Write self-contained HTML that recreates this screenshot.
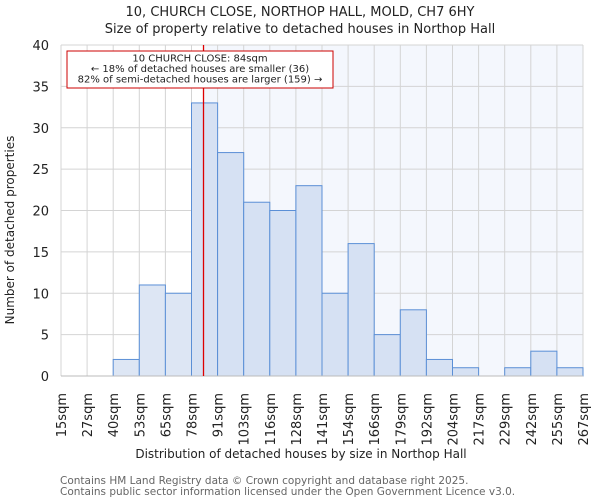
<!DOCTYPE html>
<html><head><meta charset="utf-8"><style>
body{margin:0;background:#fff;font-family:"DejaVu Sans","Liberation Sans",sans-serif;}
svg text{font-family:"DejaVu Sans","Liberation Sans",sans-serif;fill:#222;}
</style></head><body>
<svg id="chart" width="600" height="500" xmlns="http://www.w3.org/2000/svg">
<text x="300" y="16" text-anchor="middle" font-size="13">10, CHURCH CLOSE, NORTHOP HALL, MOLD, CH7 6HY</text>
<text x="300" y="33" text-anchor="middle" font-size="13">Size of property relative to detached houses in Northop Hall</text>
<g id="grid"></g><g id="bars"></g><g id="axes"></g>
<text x="301" y="458" text-anchor="middle" font-size="12">Distribution of detached houses by size in Northop Hall</text>
<text transform="translate(14,230) rotate(-90)" text-anchor="middle" font-size="12">Number of detached properties</text>
<text x="60" y="484" font-size="10.5" style="fill:#666">Contains HM Land Registry data © Crown copyright and database right 2025.</text>
<text x="60" y="495" font-size="10.5" style="fill:#666">Contains public sector information licensed under the Open Government Licence v3.0.</text>
</svg>
<script>
const categories=["15sqm","27sqm","40sqm","53sqm","65sqm","78sqm","91sqm","103sqm","116sqm","128sqm","141sqm","154sqm","166sqm","179sqm","192sqm","204sqm","217sqm","229sqm","242sqm","255sqm","267sqm"];
const counts=[0,0,2,11,10,33,27,21,20,23,10,16,5,8,2,1,0,1,3,1];
const yTicks=[0,5,10,15,20,25,30,35,40];
const markerIndex=5.46;
const NS="http://www.w3.org/2000/svg";
const X0=61,X1=583,Y0=376,Y1=45,YMAX=40;
const bw=(X1-X0)/counts.length;
const x=i=>X0+i*bw;
const y=v=>Y0-(v/YMAX)*(Y0-Y1);
function mk(tag,attrs,parent){const e=document.createElementNS(NS,tag);for(const k in attrs)e.setAttribute(k,attrs[k]);parent.appendChild(e);return e;}
const grid=document.getElementById('grid'),bars=document.getElementById('bars'),axes=document.getElementById('axes');
const mx=x(markerIndex);
let shade=mk('rect',{x:mx,y:Y1,width:X1-mx,height:Y0-Y1,fill:'#f4f7fd'},grid);


for(let i=0;i<=counts.length;i++){let l=mk('line',{x1:x(i),x2:x(i),y1:Y1,y2:Y0,stroke:'#d4d4d4','stroke-width':1},grid);

}
yTicks.forEach(t=>{let l=mk('line',{x1:X0,x2:X1,y1:y(t),y2:y(t),stroke:'#d4d4d4','stroke-width':1},grid);


let tx=mk('text',{x:X0-12,y:y(t)+5,'text-anchor':'end','font-size':13},axes);tx.textContent=t;

});
counts.forEach((c,i)=>{if(c<=0)return;let r=mk('rect',{x:x(i),y:y(c),width:bw,height:y(0)-y(c),fill:(i+1)<=markerIndex?'#dde6f4':'#d6e1f3',stroke:'#5b8fd6','stroke-width':1},bars);

});
let ax=mk('line',{x1:X0,x2:X1,y1:Y0,y2:Y0,stroke:'#bbb','stroke-width':1},axes);


categories.forEach((c,i)=>{let t=mk('text',{transform:`translate(${x(i)+5},393) rotate(-90)`,'text-anchor':'end','font-size':13},axes);t.textContent=c;

});
let ml=mk('line',{x1:mx,x2:mx,y1:Y1,y2:Y0,stroke:'#dd0000','stroke-width':1.3},axes);


let box=mk('rect',{x:67,y:51,width:266,height:37,fill:'#fff',stroke:'#cc0000','stroke-width':1},axes);


["10 CHURCH CLOSE: 84sqm","← 18% of detached houses are smaller (36)","82% of semi-detached houses are larger (159) →"].forEach((s,k)=>{let t=mk('text',{x:200,y:61.5+k*10.5,'text-anchor':'middle','font-size':10},axes);t.textContent=s;

});
</script>
</body></html>
